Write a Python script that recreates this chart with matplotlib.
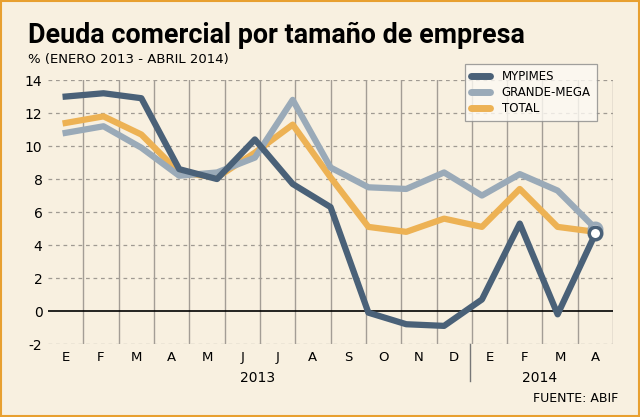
import matplotlib.pyplot as plt
import numpy as np

# datos (%)
meses = ['E', 'F', 'M', 'A', 'M', 'J', 'J', 'A', 'S', 'O', 'N', 'D', 'E', 'F', 'M', 'A']
mypimes = [13.0, 13.2, 12.9, 8.6, 8.0, 10.4, 7.7, 6.3, -0.1, -0.8, -0.9, 0.7, 5.3, -0.2, 4.7]
grande_mega = [10.8, 11.2, 9.9, 8.2, 8.4, 9.3, 12.8, 8.7, 7.5, 7.4, 8.4, 7.0, 8.3, 7.3, 5.0]
total = [11.4, 11.8, 10.7, 8.4, 8.1, 9.6, 11.3, 8.1, 5.1, 4.8, 5.6, 5.1, 7.4, 5.1, 4.8]
yticks = [-2, 0, 2, 4, 6, 8, 10, 12, 14]

bg = '#f8f0e0'
c_myp = '#4a6178'
c_gm = '#9aaab8'
c_tot = '#edb254'
font = 'DejaVu Sans'

fig = plt.figure(figsize=(6.4, 4.17), dpi=100, facecolor=bg)
ax = fig.add_axes([0.075, 0.175, 0.883, 0.633])
ax.set_facecolor(bg)

n_m = len(meses)
xs = np.linspace(0, n_m - 1, len(mypimes))

# rejilla
for y in yticks:
    if y != 0:
        ax.axhline(y, color='#a09a92', lw=0.9, ls=(0, (3, 3)), zorder=1)
for k in range(n_m):
    ax.axvline(k + 0.5, color='#a39d95', lw=1.0, zorder=1)
ax.axhline(0, color='black', lw=1.2, zorder=2)

lw = 4.5
ax.plot(xs, total, color=c_tot, lw=lw, solid_joinstyle='round', zorder=3, label='TOTAL')
ax.plot(xs, grande_mega, color=c_gm, lw=lw, solid_joinstyle='round', zorder=4, label='GRANDE-MEGA')
ax.plot(xs, mypimes, color=c_myp, lw=lw, solid_joinstyle='round', zorder=5, label='MYPIMES')
ax.plot(xs[-1], grande_mega[-1], 'o', ms=9, mfc='white', mec=c_gm, mew=2.5, zorder=6)
ax.plot(xs[-1], mypimes[-1], 'o', ms=9, mfc='white', mec=c_myp, mew=2.5, zorder=7)

ax.set_xlim(-0.5, n_m - 0.5)
ax.set_ylim(-2, 14)
ax.set_yticks(yticks)
ax.set_yticklabels([str(v) for v in yticks], fontsize=10, family=font)
ax.set_xticks(range(n_m))
ax.set_xticklabels(meses, fontsize=9.5, family=font)
ax.tick_params(length=0, pad=4)
ax.tick_params(axis='x', pad=5)
for s in ax.spines.values():
    s.set_visible(False)

# separador de anos
fig.add_artist(plt.Line2D([470 / 640, 470 / 640], [1 - 344 / 417, 1 - 381 / 417],
                          color='#777777', lw=1))
fig.text(258 / 640, 1 - 378 / 417, '2013', ha='center', va='center', fontsize=10, family=font)
fig.text(540 / 640, 1 - 378 / 417, '2014', ha='center', va='center', fontsize=10, family=font)
fig.text(618 / 640, 1 - 398 / 417, 'FUENTE: ABIF', ha='right', va='center', fontsize=9, family=font)

fig.text(28 / 640, 1 - 35 / 417, 'Deuda comercial por tamaño de empresa', ha='left', va='center',
         fontsize=19.4, fontweight='bold', family=['Roboto', 'DejaVu Sans'])
fig.text(28 / 640, 1 - 60 / 417, '% (ENERO 2013 - ABRIL 2014)', ha='left', va='center',
         fontsize=9.5, family=font)

h, l = ax.get_legend_handles_labels()
leg = fig.legend(h[::-1], l[::-1], loc='upper left', bbox_to_anchor=(465 / 640, 1 - 64 / 417),
                 frameon=True, fancybox=False, handlelength=1.6, borderpad=0.5,
                 labelspacing=0.25, handletextpad=1.0, borderaxespad=0,
                 prop={'family': font, 'size': 8.5})
leg.get_frame().set_facecolor('#fdfaf4')
leg.get_frame().set_edgecolor('#8a8a8a')
leg.get_frame().set_linewidth(0.9)
for ln in leg.get_lines():
    ln.set_solid_capstyle('round')
    ln.set_linewidth(5)

fig.add_artist(plt.Rectangle((0.002, 0.002), 0.996, 0.996, transform=fig.transFigure,
                             fill=False, edgecolor='#e8a030', lw=1.5))

plt.savefig('out.png', dpi=100, facecolor=bg)
